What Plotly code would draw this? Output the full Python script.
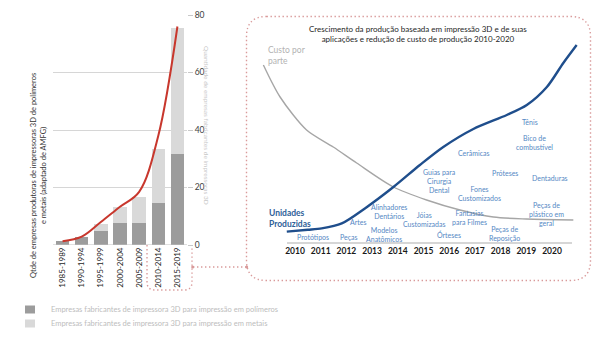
import plotly.graph_objects as go

# ---------- data: 3D printer manufacturers by period ----------
periods = ["1985-1989", "1990-1994", "1995-1999", "2000-2004", "2005-2009", "2010-2014", "2015-2019"]
polymer_companies = [1.5, 2.7, 5.0, 7.5, 7.5, 14.5, 31.5]
metal_companies = [0.0, 0.0, 2.3, 5.6, 9.3, 19.0, 44.0]
trend_companies = [1.3, 2.9, 8.0, 13.3, 18.5, 38.0, 76.0]
left_ticks = [0, 20, 40, 60, 80]
series_names = ["Empresas fabricantes de impressora 3D para impressão em polímeros",
                "Empresas fabricantes de impressora 3D para impressão em metais"]

# ---------- data: production growth vs cost per part, 2010-2020 ----------
years = list(range(2010, 2021))
units_year = [2009.68, 2010.5, 2011.04, 2011.82, 2012.72, 2013.83, 2014.86, 2015.77,
              2016.94, 2018.24, 2019.02, 2019.8, 2020.44, 2020.96]
units_level = [5.7, 6.6, 7.3, 9.8, 17.3, 28.0, 39.0, 48.0, 57.0, 64.0, 69.0, 78.0, 90.0, 99.0]
cost_year = [2008.77, 2009.42, 2010.45, 2011.49, 2012.4, 2013.83, 2015.12, 2016.42,
             2017.72, 2019.0, 2020.83]
cost_level = [89.0, 73.0, 56.5, 48.0, 40.0, 28.0, 21.5, 16.5, 13.0, 12.0, 11.5]

applications = ["Protótipos", "Peças", "Artes", "Alinhadores<br>Dentários", "Modelos<br>Anatômicos",
                "Jóias<br>Customizadas", "Guias para<br>Cirurgia<br>Dental", "Órteses",
                "Fantasias<br>para Filmes", "Fones<br>Customizados", "Cerâmicas",
                "Peças de<br>Reposição", "Próteses", "Dentaduras",
                "Peças de<br>plástico em<br>geral", "Tênis", "Bico de<br>combustível"]
application_year = [2010.69, 2012.11, 2012.46, 2013.67, 2013.47, 2015.03, 2015.61, 2016.0,
                    2016.78, 2017.17, 2016.98, 2018.17, 2018.17, 2019.92, 2019.77, 2019.14, 2019.31]

# vertical placement of the application labels (in the right panel's units)
application_row = [3.2, 3.2, 10.7, 15.9, 4.25, 11.75, 31.0, 4.2, 13.0, 25.0, 45.2, 4.8,
                   34.8, 32.7, 14.5, 60.3, 50.4]

# ---------- page geometry helpers (pixels -> paper) ----------
W, H = 602, 339


def px(x):
    return x / W


def py(y):
    return 1 - y / H


def yr(x):
    return 2010 + (x - 295) / 25.7


def lv(y):
    return (243 - y) / 2


FONT = "Lato"
DARK_BAR = "#9c9c9c"
LIGHT_BAR = "#d9d9d9"
RED = "#c8372d"
DOT = "#d99a9a"
LABEL_BLUE = "#5588c4"

fig = go.Figure()

fig.add_trace(go.Bar(
    x=periods, y=polymer_companies, marker_color=DARK_BAR, marker_line_width=0,
    name=series_names[0], xaxis="x", yaxis="y"))
fig.add_trace(go.Bar(
    x=periods, y=metal_companies, marker_color=LIGHT_BAR, marker_line_width=0,
    name=series_names[1], xaxis="x", yaxis="y"))
fig.add_trace(go.Scatter(
    x=periods, y=trend_companies, mode="lines",
    line=dict(color=RED, width=2, shape="spline", smoothing=1.0),
    hoverinfo="skip", xaxis="x", yaxis="y"))

fig.add_trace(go.Scatter(
    x=cost_year, y=cost_level, mode="lines",
    line=dict(color="#a6a6a6", width=1.4, shape="spline", smoothing=0.8),
    xaxis="x2", yaxis="y2"))
fig.add_trace(go.Scatter(
    x=units_year, y=units_level, mode="lines",
    line=dict(color="#1f4e8c", width=2.4, shape="spline", smoothing=0.8),
    xaxis="x2", yaxis="y2"))

annotations = []
for name, x, y in zip(applications, application_year, application_row):
    annotations.append(dict(
        x=x, y=y, xref="x2", yref="y2", text=name, showarrow=False,
        xanchor="center", yanchor="middle",
        font=dict(family=FONT, size=7, color=LABEL_BLUE), align="center"))

annotations += [
    dict(x=yr(267), y=lv(218), xref="x2", yref="y2", xanchor="left", yanchor="middle",
         text="<b>Unidades<br>Produzidas</b>", showarrow=False, align="left",
         font=dict(family=FONT, size=8.5, color="#2f5f98")),
    dict(x=yr(266), y=lv(55), xref="x2", yref="y2", xanchor="left", yanchor="middle",
         text="Custo por<br>parte", showarrow=False, align="left",
         font=dict(family=FONT, size=8.5, color="#b3b3b3")),
    dict(x=px(418), y=py(34), xref="paper", yref="paper", xanchor="center", yanchor="middle",
         text="Crescimento da produção baseada em impressão 3D e de suas<br>"
              "aplicações e redução de custo de produção 2010-2020",
         showarrow=False, align="center",
         font=dict(family=FONT, size=8, color="#262626")),
    dict(x=px(38), y=py(176), xref="paper", yref="paper", textangle=-90,
         xanchor="center", yanchor="middle",
         text="Qtde de empresas produtoras de impressoras 3D de polímeros<br>"
              "e metais (adaptado de AMFG)",
         showarrow=False, align="center",
         font=dict(family=FONT, size=7.5, color="#333333")),
    dict(x=px(207), y=py(125), xref="paper", yref="paper", textangle=90,
         xanchor="center", yanchor="middle",
         text="Quantidade de empresas fabricantes de impressoras 3D",
         showarrow=False, align="center",
         font=dict(family=FONT, size=6.5, color="#c8c8c8")),
]

# legend drawn as swatches + captions under the bar chart
legend_rows = [309.5, 323.5]
for name, colour, row in zip(series_names, [DARK_BAR, LIGHT_BAR], legend_rows):
    annotations.append(dict(
        x=px(49), y=py(row), xref="paper", yref="paper", xanchor="left", yanchor="middle",
        text=name, showarrow=False,
        font=dict(family=FONT, size=7.5, color="#bdbdbd")))


def rounded_path(x0, y0, x1, y1, r):
    """Rounded rectangle in pixel coordinates, returned as a paper-ref SVG path."""
    pts = [
        ("M", (x0 + r, y0)), ("L", (x1 - r, y0)), ("Q", (x1, y0), (x1, y0 + r)),
        ("L", (x1, y1 - r)), ("Q", (x1, y1), (x1 - r, y1)), ("L", (x0 + r, y1)),
        ("Q", (x0, y1), (x0, y1 - r)), ("L", (x0, y0 + r)), ("Q", (x0, y0), (x0 + r, y0)),
    ]
    out = []
    for item in pts:
        cmd = item[0]
        coords = " ".join(f"{px(a):.5f},{py(b):.5f}" for a, b in item[1:])
        out.append(f"{cmd}{coords}")
    return " ".join(out) + " Z"


def bracket_path(x0, y0, x1, y1, r):
    segs = [
        f"M{px(x0):.5f},{py(y0):.5f}",
        f"L{px(x0):.5f},{py(y1 - r):.5f}",
        f"Q{px(x0):.5f},{py(y1):.5f} {px(x0 + r):.5f},{py(y1):.5f}",
        f"L{px(x1 - r):.5f},{py(y1):.5f}",
        f"Q{px(x1):.5f},{py(y1):.5f} {px(x1):.5f},{py(y1 - r):.5f}",
        f"L{px(x1):.5f},{py(248):.5f}",
    ]
    return " ".join(segs)


dot_line = dict(color=DOT, width=1.4, dash="1.4px,2.6px")
shapes = [
    dict(type="path", xref="paper", yref="paper", path=rounded_path(246.5, 16.5, 590.5, 280.5, 20),
         line=dot_line),
    dict(type="path", xref="paper", yref="paper", path=bracket_path(147, 245, 192, 290, 8),
         line=dot_line),
    dict(type="line", xref="paper", yref="paper", x0=px(193), x1=px(246.5), y0=py(267), y1=py(267),
         line=dot_line),
    dict(type="circle", xref="paper", yref="paper", x0=px(191.2), x1=px(194.2), y0=py(265.5),
         y1=py(268.5), fillcolor=DOT, line_width=0),
    dict(type="circle", xref="paper", yref="paper", x0=px(245.2), x1=px(248.2), y0=py(265.5),
         y1=py(268.5), fillcolor=DOT, line_width=0),
    # baseline of the right panel
    dict(type="line", xref="x2", yref="y2", x0=yr(287), x1=yr(572), y0=0, y1=0,
         line=dict(color="#c8c8c8", width=1.5)),
    # zero line of the bar chart
    dict(type="line", xref="paper", yref="y", x0=px(53), x1=px(187), y0=0, y1=0,
         line=dict(color="#c0c0c0", width=1)),
]
for colour, row in zip([DARK_BAR, LIGHT_BAR], legend_rows):
    shapes.append(dict(type="rect", xref="paper", yref="paper",
                       x0=px(25), x1=px(35), y0=py(row - 4), y1=py(row + 4),
                       fillcolor=colour, line_width=0))

fig.update_layout(
    width=W, height=H, autosize=False,
    margin=dict(l=0, r=0, t=0, b=0, autoexpand=False),
    paper_bgcolor="white", plot_bgcolor="rgba(0,0,0,0)",
    barmode="stack", bargap=0.3, showlegend=False,
    font=dict(family=FONT, color="#333333"),
    xaxis=dict(domain=[px(53), px(187)], type="category", tickangle=-90,
               tickfont=dict(family=FONT, size=8, color="#262626"),
               showline=False, showgrid=False, ticks="", anchor="y", automargin=False),
    yaxis=dict(domain=[py(245), py(15)], range=[0, 80], side="right", anchor="x",
               tickvals=left_ticks, showgrid=True, gridcolor="#d6d6d6", gridwidth=1,
               ticks="outside", ticklen=5, tickcolor="#c8c8c8", zeroline=False,
               tickfont=dict(family=FONT, size=8.5, color="#404040"), showline=False,
               automargin=False),
    xaxis2=dict(domain=[px(247), px(591)], range=[yr(247), yr(591)], anchor="free",
                position=py(244), tickvals=years, ticks="", showgrid=False,
                zeroline=False, showline=False, automargin=False,
                tickfont=dict(family=FONT, size=8.5, color="#1a1a1a", weight="bold")),
    yaxis2=dict(domain=[py(281), py(16)], range=[lv(281), lv(16)], anchor="x2",
                visible=False),
    annotations=annotations,
    shapes=shapes,
)

fig.write_html("out.html")
